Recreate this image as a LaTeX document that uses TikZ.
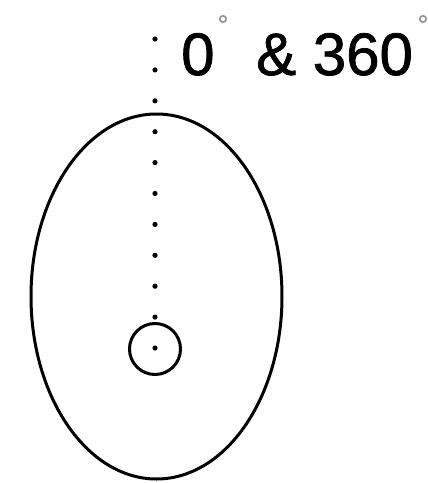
\documentclass[tikz,border=0pt]{standalone}
\usepackage{fontspec}
\setmainfont{Liberation Sans}
\newfontfamily\lblfont[FakeBold=1.2]{Liberation Sans}
\usetikzlibrary{shapes.geometric}
\begin{document}
\begin{tikzpicture}[x=1pt,y=-1pt,
  outline/.style={draw=black,line width=3pt},
  dotmark/.style={fill=black,draw=none},
  degmark/.style={draw=gray!80,line width=1.8pt},
  lbl/.style={inner sep=0pt,font=\lblfont\fontsize{60}{60}\selectfont,anchor=base west}]
\useasboundingbox (0,0) rectangle (428,483);
\node[outline,ellipse,minimum width=251pt,minimum height=365pt,inner sep=0pt] (big) at (156.5,296.5) {};
\node[outline,circle,minimum size=51pt,inner sep=0pt] (small) at (155,349) {};
\foreach \k in {0,...,10} {
  \fill[dotmark] (155,{39+\k*30.9}) circle (2.6pt);
}
\node[lbl] (zero) at (181,75) {0};
\node[lbl] (amp) at (256,75) {\& 360};
\draw[degmark] (223,19) circle (3.2pt);
\draw[degmark] (423,19) circle (3.2pt);
\end{tikzpicture}
\end{document}
